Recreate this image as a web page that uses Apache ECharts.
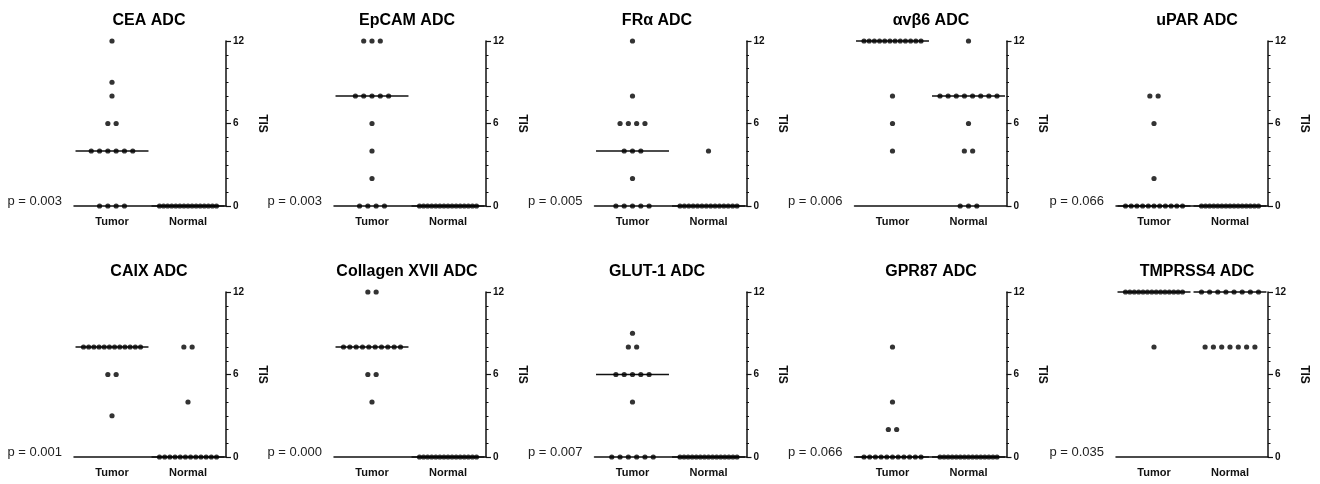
<!DOCTYPE html>
<html>
<head>
<meta charset="utf-8">
<title>TIS by ADC target</title>
<script src="https://cdn.jsdelivr.net/npm/echarts@6/dist/echarts.min.js"></script>
<style>
    html, body { margin: 0; padding: 0; background: #fff; }
    #chart { width: 1320px; height: 484px; }
</style>
</head>
<body>
<div id="chart"></div>
<script>
var groups = ['Tumor', 'Normal'];
var yTicks = [0, 6, 12];
var titles = ['CEA ADC', 'EpCAM ADC', 'FRα ADC', 'αvβ6 ADC', 'uPAR ADC',
    'CAIX ADC', 'Collagen XVII ADC', 'GLUT-1 ADC', 'GPR87 ADC', 'TMPRSS4 ADC'];
var pValues = ['0.003', '0.003', '0.005', '0.006', '0.066',
    '0.001', '0.000', '0.007', '0.066', '0.035'];

// TIS per sample
var ceaTumor = [12, 9, 8, 6, 6, 4, 4, 4, 4, 4, 4, 0, 0, 0, 0];
var ceaNormal = [0, 0, 0, 0, 0, 0, 0, 0, 0, 0, 0, 0, 0, 0, 0];
var epcamTumor = [12, 12, 12, 8, 8, 8, 8, 8, 6, 4, 2, 0, 0, 0, 0];
var epcamNormal = [0, 0, 0, 0, 0, 0, 0, 0, 0, 0, 0, 0, 0, 0, 0];
var fraTumor = [12, 8, 6, 6, 6, 6, 4, 4, 4, 2, 0, 0, 0, 0, 0];
var fraNormal = [4, 0, 0, 0, 0, 0, 0, 0, 0, 0, 0, 0, 0, 0, 0];
var avb6Tumor = [12, 12, 12, 12, 12, 12, 12, 12, 12, 12, 12, 12, 8, 6, 4];
var avb6Normal = [12, 8, 8, 8, 8, 8, 8, 8, 8, 6, 4, 4, 0, 0, 0];
var uparTumor = [8, 8, 6, 2, 0, 0, 0, 0, 0, 0, 0, 0, 0, 0, 0];
var uparNormal = [0, 0, 0, 0, 0, 0, 0, 0, 0, 0, 0, 0, 0, 0, 0];
var caixTumor = [8, 8, 8, 8, 8, 8, 8, 8, 8, 8, 8, 8, 6, 6, 3];
var caixNormal = [8, 8, 4, 0, 0, 0, 0, 0, 0, 0, 0, 0, 0, 0, 0];
var col17Tumor = [12, 12, 8, 8, 8, 8, 8, 8, 8, 8, 8, 8, 6, 6, 4];
var col17Normal = [0, 0, 0, 0, 0, 0, 0, 0, 0, 0, 0, 0, 0, 0, 0];
var glut1Tumor = [9, 8, 8, 6, 6, 6, 6, 6, 4, 0, 0, 0, 0, 0, 0];
var glut1Normal = [0, 0, 0, 0, 0, 0, 0, 0, 0, 0, 0, 0, 0, 0, 0];
var gpr87Tumor = [8, 4, 2, 2, 0, 0, 0, 0, 0, 0, 0, 0, 0, 0, 0];
var gpr87Normal = [0, 0, 0, 0, 0, 0, 0, 0, 0, 0, 0, 0, 0, 0, 0];
var tmprss4Tumor = [12, 12, 12, 12, 12, 12, 12, 12, 12, 12, 12, 12, 12, 12, 8];
var tmprss4Normal = [12, 12, 12, 12, 12, 12, 12, 12, 8, 8, 8, 8, 8, 8, 8];

var panels = [
    [ceaTumor, ceaNormal], [epcamTumor, epcamNormal], [fraTumor, fraNormal],
    [avb6Tumor, avb6Normal], [uparTumor, uparNormal],
    [caixTumor, caixNormal], [col17Tumor, col17Normal], [glut1Tumor, glut1Normal],
    [gpr87Tumor, gpr87Normal], [tmprss4Tumor, tmprss4Normal]
];

// layout
var colLeft = [74, 334, 594.5, 854.5, 1116];
var titleX = [149, 407, 657, 931, 1197];
var rowTop = [41, 292];
var gridW = 152;
var gridH = 165;
var DOT_GAP = 8.3;
var SWARM_WIDTH = 57;
var ink = '#111';

function median(arr) {
    var s = arr.slice().sort(function(a, b) { return a - b; });
    var m = Math.floor(s.length / 2);
    return s.length % 2 ? s[m] : (s[m - 1] + s[m]) / 2;
}

// spread equal values sideways, like a column scatter
function swarm(values, catIndex) {
    var counts = {};
    values.forEach(function(v) { counts[v] = (counts[v] || 0) + 1; });
    var seen = {};
    return values.map(function(v) {
        var n = counts[v];
        seen[v] = (seen[v] || 0) + 1;
        var step = n > 1 ? Math.min(DOT_GAP, SWARM_WIDTH / (n - 1)) : 0;
        return {
            value: [catIndex, v],
            symbolOffset: [(seen[v] - 1 - (n - 1) / 2) * step, 0]
        };
    });
}

function renderMedian(params, api) {
    var p = api.coord([api.value(0), api.value(1)]);
    var half = api.size([1, 0])[0] * 0.48;
    return {
        type: 'line',
        shape: { x1: p[0] - half, y1: p[1], x2: p[0] + half, y2: p[1] },
        style: { stroke: ink, lineWidth: 1.3 }
    };
}

var grids = [], xAxes = [], yAxes = [], series = [], graphics = [];

panels.forEach(function(pair, i) {
    var col = i % 5;
    var row = Math.floor(i / 5);
    var left = colLeft[col];
    var top = rowTop[row];

    grids.push({
        left: left, top: top, width: gridW, height: gridH,
        outerBoundsMode: 'none'
    });

    xAxes.push({
        gridIndex: i,
        type: 'category',
        data: groups,
        boundaryGap: true,
        axisLine: { lineStyle: { color: ink, width: 1.5 } },
        axisTick: { alignWithLabel: true, length: 5, lineStyle: { color: ink, width: 1.2 } },
        axisLabel: { fontSize: 11, fontWeight: 'bold', color: ink, margin: 10 },
        splitLine: { show: false }
    });

    yAxes.push({
        gridIndex: i,
        type: 'value',
        position: 'right',
        min: yTicks[0],
        max: yTicks[yTicks.length - 1],
        interval: yTicks[1] - yTicks[0],
        axisLine: { show: true, lineStyle: { color: ink, width: 1.5 } },
        axisTick: { show: true, length: 5, lineStyle: { color: ink, width: 1.2 } },
        minorTick: { show: true, splitNumber: 6, length: 2.5, lineStyle: { color: ink, width: 1 } },
        splitLine: { show: false },
        axisLabel: { fontSize: 10, fontWeight: 'bold', color: ink, margin: 7 },
        name: 'TIS',
        nameLocation: 'middle',
        nameRotate: -90,
        nameGap: 30,
        nameTextStyle: { fontSize: 12, fontWeight: 'bold', color: ink }
    });

    series.push({
        type: 'custom',
        xAxisIndex: i,
        yAxisIndex: i,
        z: 1,
        silent: true,
        data: [[0, median(pair[0])], [1, median(pair[1])]],
        renderItem: renderMedian
    });

    pair.forEach(function(values, g) {
        series.push({
            type: 'scatter',
            name: titles[i] + ' ' + groups[g],
            xAxisIndex: i,
            yAxisIndex: i,
            z: 3,
            clip: false,
            symbol: 'circle',
            symbolSize: 5.2,
            itemStyle: { color: '#000' },
            data: swarm(values, g)
        });
    });

    graphics.push({
        type: 'text',
        x: titleX[col],
        y: top - 20,
        style: {
            text: titles[i], fill: '#000', align: 'center', verticalAlign: 'middle',
            font: 'bold 16px Arial, "Liberation Sans", sans-serif'
        }
    });
    graphics.push({
        type: 'text',
        x: left - 12,
        y: top + gridH - 5,
        style: {
            text: 'p = ' + pValues[i], fill: '#222', align: 'right', verticalAlign: 'middle',
            font: '13px Arial, "Liberation Sans", sans-serif'
        }
    });
});

var chart = echarts.init(document.getElementById('chart'));
chart.setOption({
    animation: false,
    backgroundColor: '#fff',
    textStyle: { fontFamily: 'Arial, "Liberation Sans", sans-serif' },
    grid: grids,
    xAxis: xAxes,
    yAxis: yAxes,
    series: series,
    graphic: graphics
});
</script>
</body>
</html>
